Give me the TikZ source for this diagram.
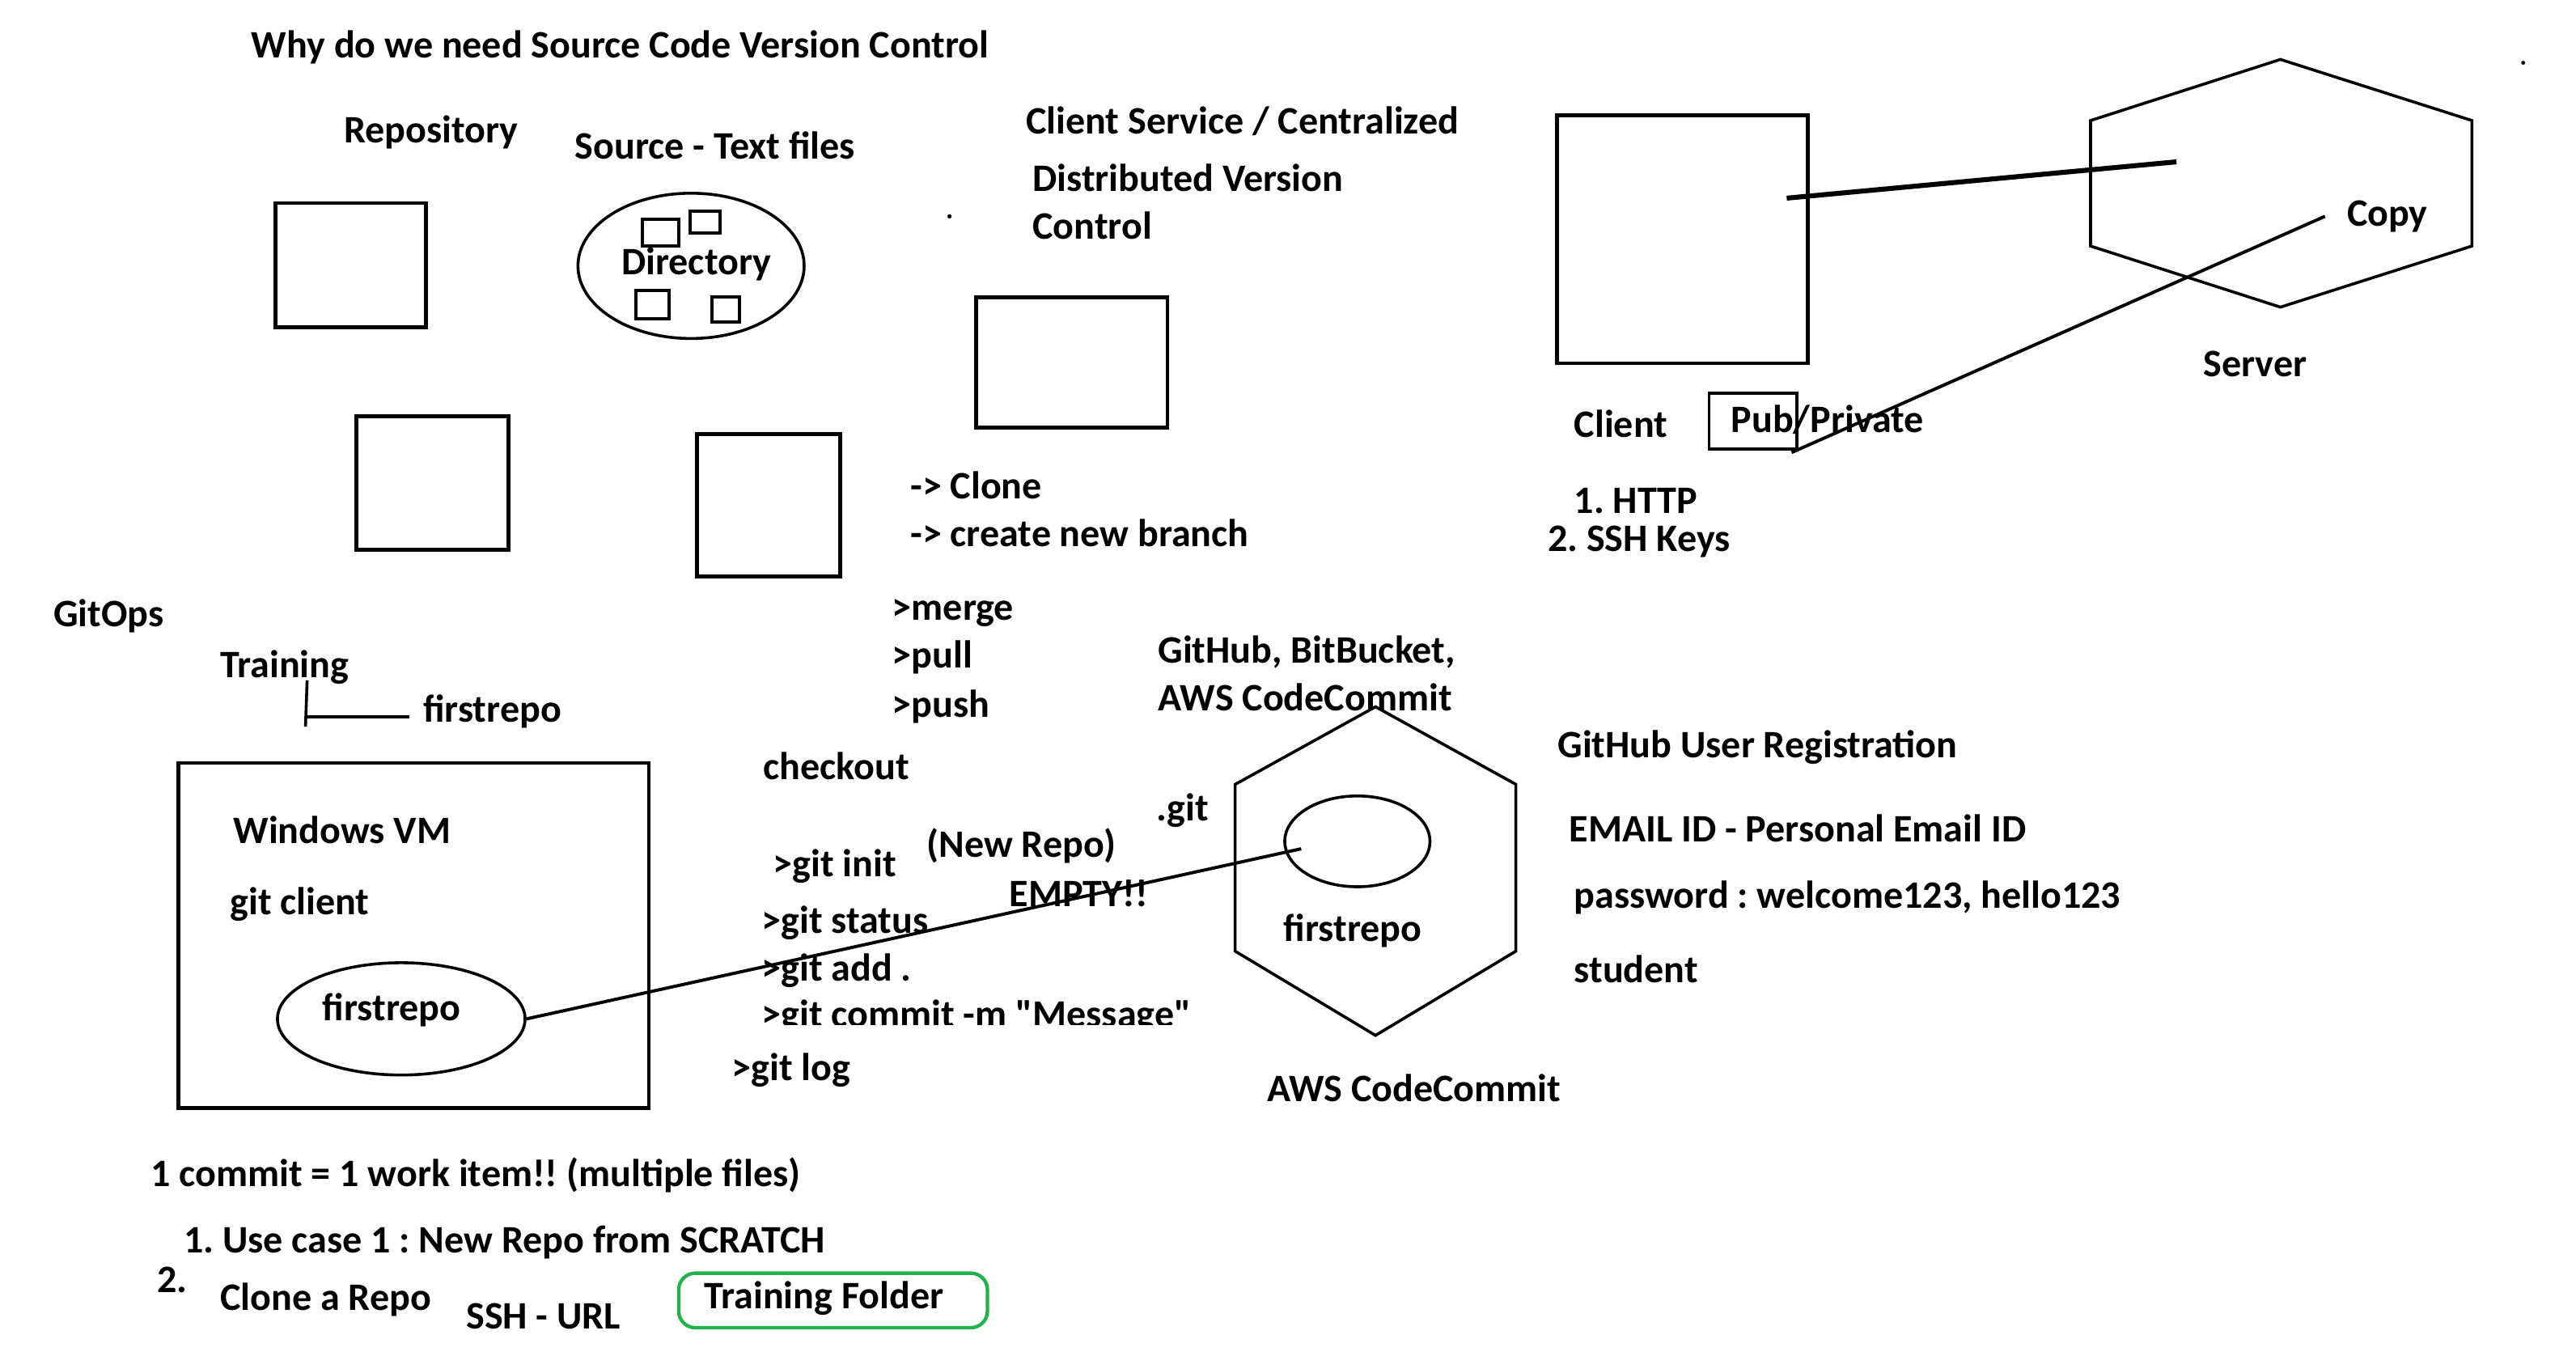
\documentclass[tikz,border=0pt]{standalone}
\usepackage{fontspec}
\newfontfamily\cf{Carlito}
\usetikzlibrary{shapes.geometric}
\definecolor{pgreen}{RGB}{34,177,76}
\frenchspacing
\tikzset{
  txt/.style={anchor=base west,inner sep=0pt,font=\cf\bfseries\fontsize{13.4}{16}\selectfont},
  box/.style={draw,line width=1.35pt,inner sep=0pt},
  sq/.style={draw,line width=1.1pt,inner sep=0pt},
  ell/.style={draw,ellipse,line width=1pt,inner sep=0pt},
  ln/.style={line width=1.1pt},
  hexl/.style={line width=1pt,line join=miter}
}
\begin{document}
\begin{tikzpicture}[x=0.02cm,y=-0.02cm]
\frenchspacing
\useasboundingbox (0,0) rectangle (1560,820.7);
% ---- top left
\node[txt] (title) at (152,35) {Why do we need Source Code Version Control};
\node[txt] (repo) at (208,86.5) {Repository};
\node[txt] (src) at (348,96.5) {Source - Text files};
\node[box,minimum width=1.82cm,minimum height=1.5cm] (b1) at (212.5,160.5) {};
\node[ell,minimum width=2.74cm,minimum height=1.76cm] (dir) at (418.5,161) {};
\node[txt] (dirt) at (376,166.5) {Directory};
\node[sq,minimum width=0.44cm,minimum height=0.32cm] (s1) at (400,141) {};
\node[sq,minimum width=0.36cm,minimum height=0.26cm] (s2) at (427,134.5) {};
\node[sq,minimum width=0.40cm,minimum height=0.34cm] (s3) at (395,184.5) {};
\node[sq,minimum width=0.34cm,minimum height=0.30cm] (s4) at (439.5,187.5) {};
\node[box,minimum width=1.84cm,minimum height=1.62cm] (b2) at (262,292.5) {};
\node[box,minimum width=1.74cm,minimum height=1.72cm] (b3) at (465.5,306) {};
\fill (575,131) circle (1.3);
% ---- top middle
\node[txt] (cs) at (621,81) {Client Service / Centralized};
\node[txt] (dv) at (625,116) {Distributed Version};
\node[txt] (dvc) at (625,145) {Control};
\node[box,minimum width=2.32cm,minimum height=1.58cm] (b4) at (649,219.5) {};
\node[txt] (clone) at (551,302) {-> Clone};
\node[txt] (branch) at (551,331) {-> create new branch};
\node[txt] (merge) at (540,375.5) {>merge};
\node[txt] (pull) at (540,404.5) {>pull};
\node[txt] (push) at (540,434.5) {>push};
\node[txt] (gh) at (701,401.5) {GitHub, BitBucket,};
\node[txt] (aws1) at (701,430.5) {AWS CodeCommit};
% ---- top right
\node[box,minimum width=3.04cm,minimum height=3.0cm] (client) at (1019,145) {};
\draw[hexl] (1381,36) -- (1497,73) -- (1497,149) -- (1381,186) -- (1266,149) -- (1266,73) -- cycle;
\coordinate (cl) at (1082,120);
\coordinate (sv) at (1318,98);
\coordinate (cp) at (1408,131);
\coordinate (pp) at (1085,274);
\draw[line width=1.7pt] (cl) -- (sv);
\draw[ln] (cp) -- (pp);
\node[txt] (copy) at (1421,137) {Copy};
\node[txt] (server) at (1334,228) {Server};
\node[txt] (clt) at (953,265) {Client};
\node[draw,line width=1.1pt,inner sep=0pt,minimum width=1.06cm,minimum height=0.68cm] (pub) at (1061.5,255) {};
\node[txt] (pubt) at (1048,262) {Pub/Private};
\node[txt] (http) at (953,311) {1. HTTP};
\node[txt] (ssh) at (937,334) {2. SSH Keys};
\fill (1528,38) circle (1.2);
% ---- left middle
\node[txt] (gitops) at (32,379.5) {GitOps};
\node[txt] (train) at (133,410.5) {Training};
\coordinate (t1) at (186,412);
\coordinate (t2) at (185,440);
\coordinate (t3) at (186,434);
\coordinate (t4) at (248,434);
\draw[line width=1pt] (t1) -- (t2);
\draw[line width=1pt] (t3) -- (t4);
\node[txt] (fr1) at (256,437.5) {firstrepo};
\node[box,minimum width=5.7cm,minimum height=4.18cm] (vm) at (250.5,566.5) {};
\node[txt] (vmt) at (141,511) {Windows VM};
\node[txt] (gc) at (139,554) {git client};
\node[ell,minimum width=3.0cm,minimum height=1.36cm] (fr) at (243,617) {};
\node[txt] (frt) at (195,618) {firstrepo};
% ---- git commands
\node[txt] (co) at (462,472) {checkout};
\node[txt] (init) at (468,531) {>git init};
\node[txt] (newrepo) at (561,519) {(New Repo)};
\node[txt] (empty) at (611,549) {EMPTY!!};
\node[txt] (dotgit) at (700,497) {.git};
\node[txt] (status) at (461,565) {>git status};
\node[txt] (add) at (461,594) {>git add .};
\begin{scope}
\clip (440,590) rectangle (760,620.5);
\node[txt] (commit) at (461,622) {>git commit -m "Message"};
\end{scope}
\node[txt] (log) at (443,654.5) {>git log};
% ---- AWS hexagon
\draw[hexl] (833,428) -- (918,475) -- (918,576) -- (833,627) -- (748,576) -- (748,475) -- cycle;
\node[ell,minimum width=1.76cm,minimum height=1.1cm] (hexin) at (822,509.5) {};
\node[txt] (fr2) at (777,570) {firstrepo};
\node[txt] (aws2) at (767,667) {AWS CodeCommit};
\coordinate (gitend) at (788,514);
\draw[ln] (fr.east) -- (gitend);
% ---- registration
\node[txt] (reg) at (943,459) {GitHub User Registration};
\node[txt] (email) at (950,510) {EMAIL ID - Personal Email ID};
\node[txt] (pw) at (953,550) {password : welcome123, hello123};
\node[txt] (stu) at (953,595) {student};
% ---- bottom
\node[txt] (commitnote) at (91,718.5) {1 commit = 1 work item!! (multiple files)};
\node[txt] (uc1) at (111,758.5) {1. Use case 1 : New Repo from SCRATCH};
\node[txt] (two) at (95,782.5) {2.};
\node[txt] (cloner) at (133,793.5) {Clone a Repo};
\node[txt] (sshurl) at (282,804.5) {SSH - URL};
\node[draw=pgreen,line width=1.2pt,rounded corners=0.2cm,inner sep=0pt,minimum width=3.74cm,minimum height=0.66cm] (tf) at (504.5,787.5) {};
\node[txt] (tft) at (426,792.5) {Training Folder};
\end{tikzpicture}
\end{document}
